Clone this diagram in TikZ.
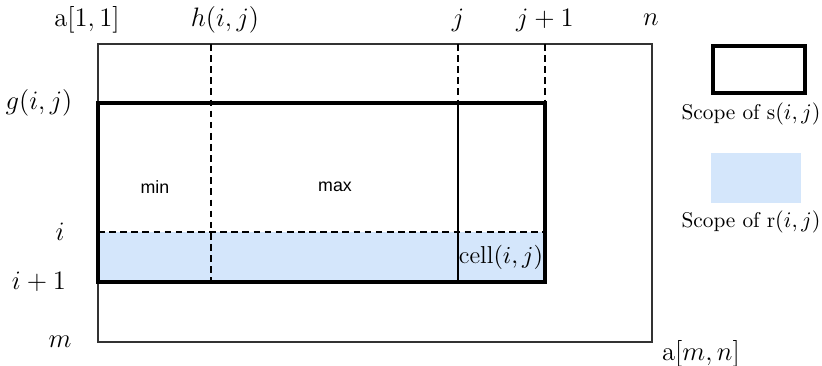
\documentclass[tikz,border=0pt]{standalone}
\usepackage{fontspec}
\newfontfamily\helv{Liberation Sans}
\begin{document}
\begin{tikzpicture}[x=0.45pt,y=-0.45pt,
  thinline/.style={line width=0.7pt,draw=black!80},
  thickline/.style={line width=1.4pt,draw=black},
  dashline/.style={line width=0.5pt,dashed,dash pattern=on 3pt off 2pt},
  lab/.style={font=\large,inner sep=0pt},
  leg/.style={font=\fontsize{9.6}{11}\selectfont,inner sep=0pt},
  word/.style={font=\helv\fontsize{8}{10}\selectfont,inner sep=0pt}]
\definecolor{scopeblue}{RGB}{212,230,251}
\useasboundingbox (0,0) rectangle (822,366);
% blue region
\fill[scopeblue] (98,232) rectangle (545,282);
% outer matrix
\draw[thinline] (98,44) rectangle (652,342);
% dashed lines
\draw[dashline] (211,44) -- (211,282);
\draw[dashline] (458,44) -- (458,103);
\draw[dashline] (545,44) -- (545,103);
\draw[dashline] (98,232) -- (545,232);
% solid divider
\draw[line width=0.6pt] (458,103) -- (458,282);
% scope of s
\draw[thickline] (98,103) rectangle (545,282);
% labels
\node[lab] (a11) at (87,20) {a$[1,1]$};
\node[lab] (h) at (225,20) {$h(i,j)$};
\node[lab] (j) at (458,20) {$j$};
\node[lab] (j1) at (545,20) {$j+1$};
\node[lab] (n) at (651,20) {$n$};
\node[lab] (g) at (39,103) {$g(i,j)$};
\node[lab] (i) at (60,232) {$i$};
\node[lab] (i1) at (39,282) {$i+1$};
\node[lab] (m) at (60,342) {$m$};
\node[lab] (amn) at (701,354) {a$[m,n]$};
\node[word] (min) at (155,187) {min};
\node[word] (max) at (335,187) {max};
\node[lab,font=\fontsize{11}{13}\selectfont] (cell) at (501,257) {cell$(i,j)$};
% legend
\draw[thickline] (713,46) rectangle (805,93);
\node[leg] (ls) at (751,114) {Scope of s$(i,j)$};
\fill[scopeblue] (711,153) rectangle (801,203);
\node[leg] (lr) at (751,222) {Scope of r$(i,j)$};
\end{tikzpicture}
\end{document}
